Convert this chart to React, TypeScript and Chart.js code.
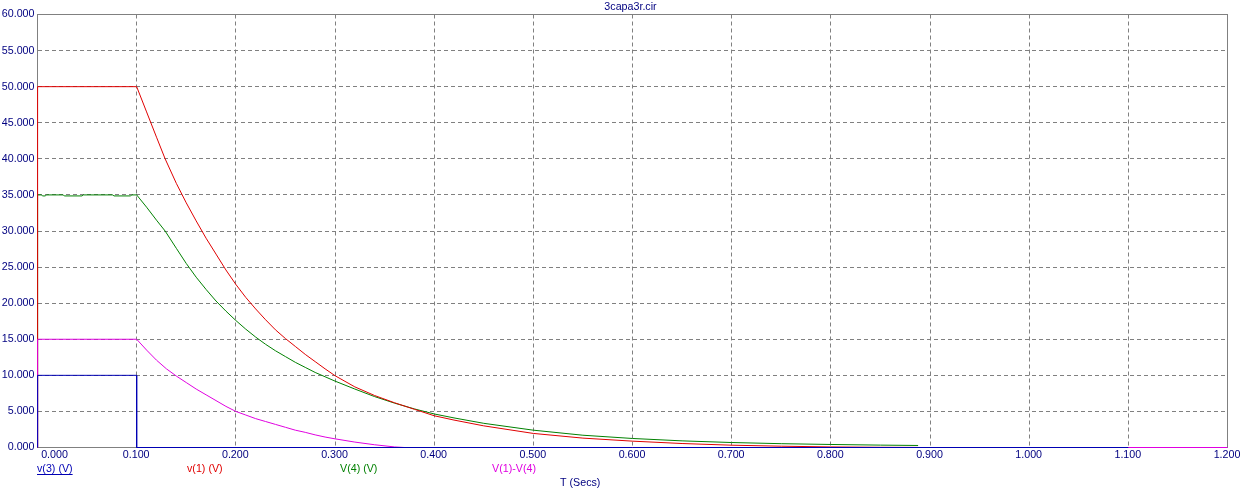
import React, { useEffect, useRef } from "react";
import { Chart, registerables } from "chart.js";

Chart.register(...registerables);

const chartTitle = "3capa3r.cir";
const xAxisTitle = "T (Secs)";

const xTickValues = [0, 0.1, 0.2, 0.3, 0.4, 0.5, 0.6, 0.7, 0.8, 0.9, 1.0, 1.1, 1.2];
const yTickValues = [0, 5, 10, 15, 20, 25, 30, 35, 40, 45, 50, 55, 60];

// v(3)
const v3Time = [0, 0.0001, 0.1, 0.1, 1.1];
const v3Volts = [0, 10, 10, 0, 0];

// v(1)
const v1Time = [0, 0.0001, 0.1, 0.11, 0.12, 0.1287, 0.14, 0.15, 0.16, 0.17, 0.18, 0.19, 0.2, 0.21, 0.22, 0.23, 0.24, 0.25, 0.26, 0.27, 0.28, 0.29, 0.3, 0.32, 0.34, 0.36, 0.38, 0.4, 0.42, 0.45, 0.5, 0.55, 0.6, 0.65, 0.7, 0.75, 0.8, 0.85, 0.888];
const v1Volts = [0, 50, 50, 46.5, 43.0, 40.0, 36.6, 33.9, 31.4, 29.0, 26.8, 24.6, 22.6, 20.8, 19.2, 17.7, 16.3, 15.1, 14.0, 12.9, 11.9, 10.9, 9.95, 8.4, 7.2, 6.2, 5.3, 4.4, 3.8, 3.0, 1.95, 1.3, 0.88, 0.55, 0.32, 0.18, 0.08, 0.03, 0.01];

// V(4)
const v4Time = [0, 0.0001, 0.004, 0.005, 0.008, 0.009, 0.026, 0.027, 0.045, 0.046, 0.076, 0.077, 0.094, 0.095, 0.1, 0.11, 0.12, 0.1287, 0.14, 0.15, 0.16, 0.17, 0.18, 0.19, 0.2, 0.21, 0.22, 0.23, 0.24, 0.25, 0.26, 0.27, 0.28, 0.29, 0.3, 0.32, 0.34, 0.36, 0.38, 0.4, 0.42, 0.45, 0.5, 0.55, 0.6, 0.65, 0.7, 0.75, 0.8, 0.85, 0.888];
const v4Volts = [0, 35, 35, 34.86, 34.86, 35, 35, 34.86, 34.86, 35, 35, 34.86, 34.86, 35, 35, 33.3, 31.5, 30.0, 27.6, 25.5, 23.6, 21.9, 20.3, 18.9, 17.6, 16.4, 15.3, 14.3, 13.4, 12.6, 11.8, 11.1, 10.4, 9.8, 9.2, 8.1, 7.05, 6.15, 5.35, 4.65, 4.1, 3.35, 2.4, 1.7, 1.25, 0.92, 0.69, 0.53, 0.42, 0.33, 0.28];

// V(1)-V(4)
const diffTime = [0, 0.0001, 0.1, 0.11, 0.12, 0.13, 0.14, 0.15, 0.16, 0.17, 0.18, 0.19, 0.2, 0.21, 0.22, 0.23, 0.24, 0.25, 0.26, 0.27, 0.28, 0.29, 0.3, 0.32, 0.34, 0.36, 0.37, 1.2];
const diffVolts = [0, 15, 15, 13.5, 12.1, 10.9, 9.9, 9.0, 8.1, 7.3, 6.5, 5.7, 5.0, 4.5, 4.0, 3.6, 3.2, 2.8, 2.4, 2.1, 1.75, 1.45, 1.2, 0.75, 0.38, 0.08, 0, 0];

const seriesNames = ["v(3) (V)", "v(1) (V)", "V(4) (V)", "V(1)-V(4)"];
const seriesColors = ["#0000b4", "#e00000", "#008000", "#e000e0"];
const legendX = [37, 187, 340, 492];

const FONT = "10.7px 'Liberation Sans', Arial, sans-serif";
const NAVY = "#000080";
const GRID = "#808080";

const toPoints = (t: number[], v: number[]) => t.map((x, i) => ({ x, y: v[i] }));

const framePlugin = {
  id: "frame",
  beforeDatasetsDraw(chart: any) {
    const { ctx, chartArea } = chart;
    ctx.save();
    ctx.strokeStyle = GRID;
    ctx.lineWidth = 1;
    ctx.setLineDash([]);
    ctx.strokeRect(
      Math.floor(chartArea.left) + 0.5,
      Math.floor(chartArea.top) + 0.5,
      Math.floor(chartArea.right) - Math.floor(chartArea.left),
      Math.floor(chartArea.bottom) - Math.floor(chartArea.top)
    );
    ctx.restore();
  },
  afterDraw(chart: any) {
    const { ctx, chartArea, scales } = chart;
    const xs = scales.x;
    const ys = scales.y;
    ctx.save();
    ctx.font = FONT;
    ctx.fillStyle = NAVY;
    ctx.textAlign = "center";
    ctx.textBaseline = "middle";
    ctx.fillText(chartTitle, (chartArea.left + chartArea.right) / 2 - 2, 7.5);
    ctx.textAlign = "right";
    yTickValues.forEach((v) => {
      ctx.fillText(v.toFixed(3), 34.5, ys.getPixelForValue(v));
    });
    ctx.textAlign = "center";
    xTickValues.forEach((v, i) => {
      const px = xs.getPixelForValue(v);
      ctx.fillText(v.toFixed(3), i === 0 ? px + 17 : px - 0.5, 455.5);
    });
    ctx.textAlign = "left";
    seriesNames.forEach((name, i) => {
      ctx.fillStyle = seriesColors[i];
      ctx.fillText(name, legendX[i], 469);
      if (i === 0) {
        const w = ctx.measureText(name).width;
        ctx.fillRect(legendX[i], 474, w, 1);
      }
    });
    ctx.fillStyle = NAVY;
    ctx.fillText(xAxisTitle, 560, 483);
    ctx.restore();
  },
};

export default function App() {
  const ref = useRef<HTMLCanvasElement | null>(null);
  useEffect(() => {
    if (!ref.current) return;
    const datasets = [
      { t: v3Time, v: v3Volts },
      { t: diffTime, v: diffVolts },
      { t: v1Time, v: v1Volts },
      { t: v4Time, v: v4Volts },
    ];
    const colorIdx = [0, 3, 1, 2];
    const chart = new Chart(ref.current, {
      type: "line",
      data: {
        datasets: datasets.map((d, i) => ({
          label: seriesNames[colorIdx[i]],
          data: toPoints(d.t, d.v),
          borderColor: seriesColors[colorIdx[i]],
          backgroundColor: seriesColors[colorIdx[i]],
          borderWidth: 1,
          pointRadius: 0,
          tension: 0,
          fill: false,
          clip: false as any,
        })),
      },
      options: {
        animation: false,
        responsive: false,
        events: [],
        layout: { padding: { left: 37.5, right: 19.5, top: 14.5, bottom: 45.5 } },
        plugins: { legend: { display: false }, tooltip: { enabled: false }, title: { display: false } },
        scales: {
          x: {
            type: "linear",
            min: 0,
            max: 1.2,
            afterBuildTicks: (scale: any) => {
              scale.ticks = xTickValues.map((value) => ({ value }));
            },
            ticks: { display: false },
            grid: { color: GRID, lineWidth: 1, drawTicks: false },
            border: { display: false, dash: [4, 3] },
          },
          y: {
            type: "linear",
            min: 0,
            max: 60,
            afterBuildTicks: (scale: any) => {
              scale.ticks = yTickValues.map((value) => ({ value }));
            },
            ticks: { display: false },
            grid: { color: GRID, lineWidth: 1, drawTicks: false },
            border: { display: false, dash: [4, 3] },
          },
        },
      } as any,
      plugins: [framePlugin],
    });
    return () => chart.destroy();
  }, []);
  return (
    <div style={{ position: "absolute", left: 0, top: 0, width: 1247, height: 493, background: "#fff" }}>
      <canvas ref={ref} width={1247} height={493} style={{ display: "block" }} />
    </div>
  );
}
